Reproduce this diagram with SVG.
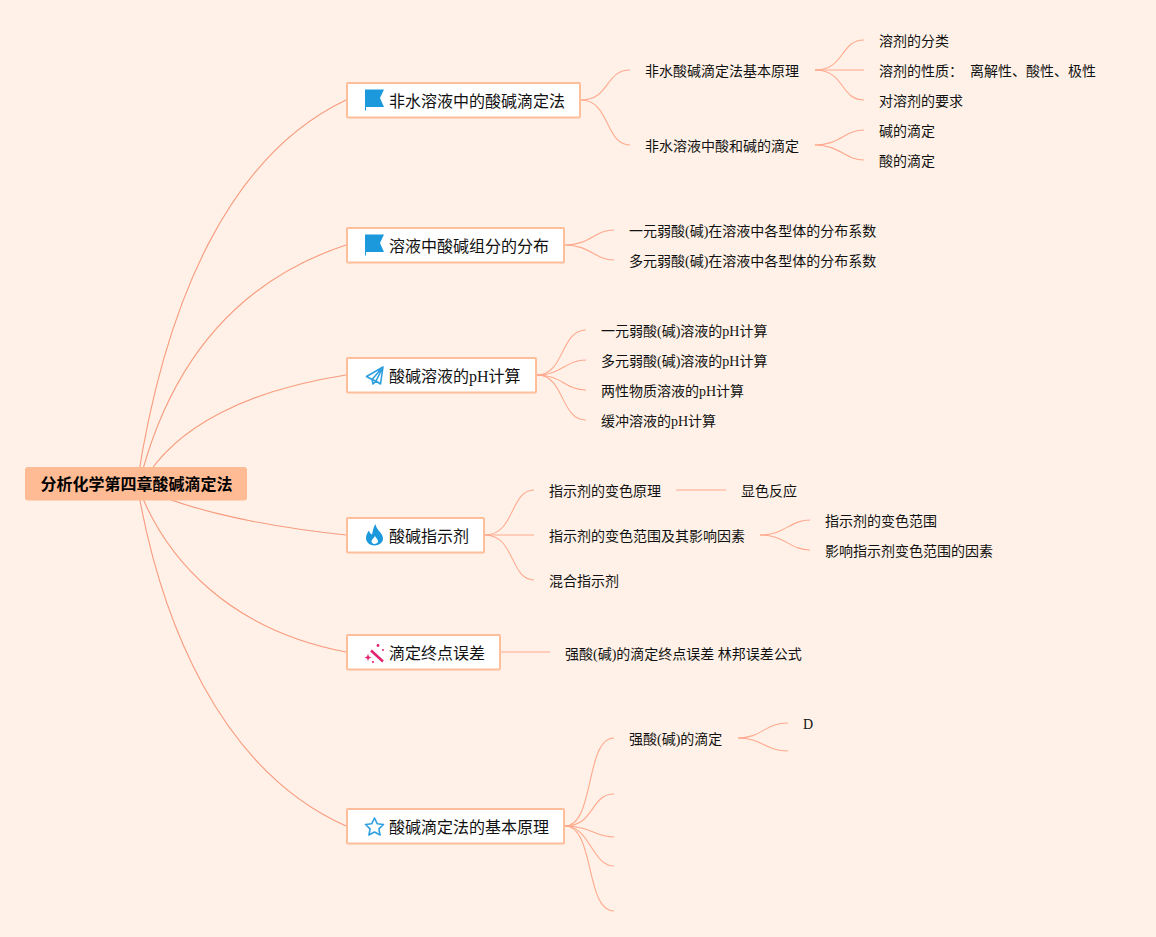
<svg xmlns="http://www.w3.org/2000/svg" width="1156" height="937" viewBox="0 0 1156 937">
<style>
text{font-family:"Liberation Serif","Noto Sans CJK SC",serif;fill:#111;white-space:pre}
.l{font-size:14px}
.b{font-size:16px}
.r{font-size:16px;font-weight:bold;fill:#000;font-family:"Noto Sans CJK SC",sans-serif}
.box{fill:#fff;stroke:#FFBE9A;stroke-width:2;}
.c{fill:none;stroke:#FFA98E;stroke-width:1.100}
.m{fill:none;stroke:#F89B7E;stroke-width:1.100}
.ic{fill:#1C98DD}
.io{fill:none;stroke:#2F9FE0;stroke-width:1.600;stroke-linejoin:round}
.w{fill:#E0246E}
</style>
<rect width="1156" height="937" fill="#FFF1E7"/>
<g id="connectors">
<path class="m" d="M137 484C165 300 230 155 346 100"/>
<path class="m" d="M139 484C170 360 240 280 346 245"/>
<path class="m" d="M142 484C175 425 250 390 346 375"/>
<path class="m" d="M137 484C170 505 250 525 346 535"/>
<path class="m" d="M137 484C165 560 230 630 346 652"/>
<path class="m" d="M137 484C160 620 220 770 346 826"/>
<path class="c" d="M581 100C610 100 605 70 630 70"/>
<path class="c" d="M581 100C610 100 605 145 630 145"/>
<path class="c" d="M815 70C845 70 840 40 864 40"/>
<path class="c" d="M815 70H864"/>
<path class="c" d="M815 70C845 70 840 100 864 100"/>
<path class="c" d="M815 145C840 145 845 130 864 130"/>
<path class="c" d="M815 145C840 145 845 160 864 160"/>
<path class="c" d="M565 245C590 245 595 230 614 230"/>
<path class="c" d="M565 245C590 245 595 260 614 260"/>
<path class="c" d="M537 375C565 375 560 330 586 330"/>
<path class="c" d="M537 375C562 375 565 360 586 360"/>
<path class="c" d="M537 375C562 375 565 390 586 390"/>
<path class="c" d="M537 375C565 375 560 420 586 420"/>
<path class="c" d="M485 535C515 535 510 490 534 490"/>
<path class="c" d="M485 535H534"/>
<path class="c" d="M485 535C515 535 510 580 534 580"/>
<path class="c" d="M676 490H726"/>
<path class="c" d="M760 535C785 535 790 520 810 520"/>
<path class="c" d="M760 535C785 535 790 550 810 550"/>
<path class="c" d="M501 652H550"/>
<path class="c" d="M565 826C595 826 585 738 614 738"/>
<path class="c" d="M565 826C595 826 590 794 614 794"/>
<path class="c" d="M565 826C590 826 595 837 614 837"/>
<path class="c" d="M565 826C590 826 592 866 614 866"/>
<path class="c" d="M565 826C595 826 585 911 614 911"/>
<path class="c" d="M738 738C762 738 765 723 788 723"/>
<path class="c" d="M738 738C762 738 765 751 788 751"/>
</g>
<g id="root"><rect x="25" y="467" width="222" height="33.500" rx="3" fill="#FFBC94"/><text class="r" x="40.500" y="490">分析化学第四章酸碱滴定法</text></g>
<g id="n1"><rect class="box" x="347" y="83" width="233" height="34.500" rx="1"/>
<path class="ic" d="M365 89.500H384L380 98L384 107H366V110.500H365Z"/>
<text class="b" x="389" y="107">非水溶液中的酸碱滴定法</text></g>
<g id="n2"><rect class="box" x="347" y="228" width="217" height="34.500" rx="1"/>
<path class="ic" d="M365 234.500H384L380 243L384 252H366V255.500H365Z"/>
<text class="b" x="389" y="252">溶液中酸碱组分的分布</text></g>
<g id="n3"><rect class="box" x="347" y="358" width="189" height="34.500" rx="1"/>
<path class="io" d="M383 367L366.500 376.500L372 379.500ZM383 367L372 379.500L373 384L376 381ZM383 367L380.500 384L376 381L372 379.500"/>
<text class="b" x="389" y="382">酸碱溶液的pH计算</text></g>
<g id="n4"><rect class="box" x="347" y="518" width="137" height="34.500" rx="1"/>
<path class="ic" d="M375.500 524C376 530 383 533 383 538.500C383 542.500 379 545.500 374.500 545.500C370 545.500 366 542.500 366 538C366 535 367.500 532.500 369 530.500C369.500 532.500 370.500 534 372 534.500C373 531 373 527.500 375.500 524ZM375 536C374 538 371.500 539.500 371.500 541.500C371.500 543 373 544 374.500 544C376 544 378 543 378 541.500C378 539.500 376 538 375 536Z" fill-rule="evenodd"/>
<text class="b" x="389" y="541.500">酸碱指示剂</text></g>
<g id="n5"><rect class="box" x="347" y="635" width="153" height="34.500" rx="1"/>
<path d="M371 650.500L383 661.500" fill="none" stroke="#E0246E" stroke-width="2.600"/>
<circle class="w" cx="378" cy="645.500" r="1.400"/><circle class="w" cx="383" cy="650" r="1"/><path class="w" d="M368 654L369 656.500L371.500 657.500L369 658.500L368 661L367 658.500L364.500 657.500L367 656.500Z"/><circle class="w" cx="373" cy="662" r="1.100"/>
<text class="b" x="389" y="658.500">滴定终点误差</text></g>
<g id="n6"><rect class="box" x="347" y="809" width="217" height="34.500" rx="1"/>
<path class="io" d="M374.500 818L377.200 823.700L383.500 824.500L378.900 828.800L380.100 835L374.500 832L368.900 835L370.100 828.800L365.500 824.500L371.800 823.700Z"/>
<text class="b" x="389" y="833">酸碱滴定法的基本原理</text></g>
<g id="leaves">
<text class="l" x="645" y="76">非水酸碱滴定法基本原理</text>
<text class="l" x="645" y="151">非水溶液中酸和碱的滴定</text>
<text class="l" x="879" y="46">溶剂的分类</text>
<text class="l" x="879" y="76">溶剂的性质：  离解性、酸性、极性</text>
<text class="l" x="879" y="106">对溶剂的要求</text>
<text class="l" x="879" y="136">碱的滴定</text>
<text class="l" x="879" y="166">酸的滴定</text>
<text class="l" x="629" y="236">一元弱酸(碱)在溶液中各型体的分布系数</text>
<text class="l" x="629" y="266">多元弱酸(碱)在溶液中各型体的分布系数</text>
<text class="l" x="601" y="336">一元弱酸(碱)溶液的pH计算</text>
<text class="l" x="601" y="366">多元弱酸(碱)溶液的pH计算</text>
<text class="l" x="601" y="396">两性物质溶液的pH计算</text>
<text class="l" x="601" y="426">缓冲溶液的pH计算</text>
<text class="l" x="549" y="496">指示剂的变色原理</text>
<text class="l" x="741" y="496">显色反应</text>
<text class="l" x="549" y="541">指示剂的变色范围及其影响因素</text>
<text class="l" x="825" y="526">指示剂的变色范围</text>
<text class="l" x="825" y="556">影响指示剂变色范围的因素</text>
<text class="l" x="549" y="586">混合指示剂</text>
<text class="l" x="565" y="659">强酸(碱)的滴定终点误差 林邦误差公式</text>
<text class="l" x="629" y="744">强酸(碱)的滴定</text>
<text class="l" x="803" y="729">D</text>
</g>
</svg>
